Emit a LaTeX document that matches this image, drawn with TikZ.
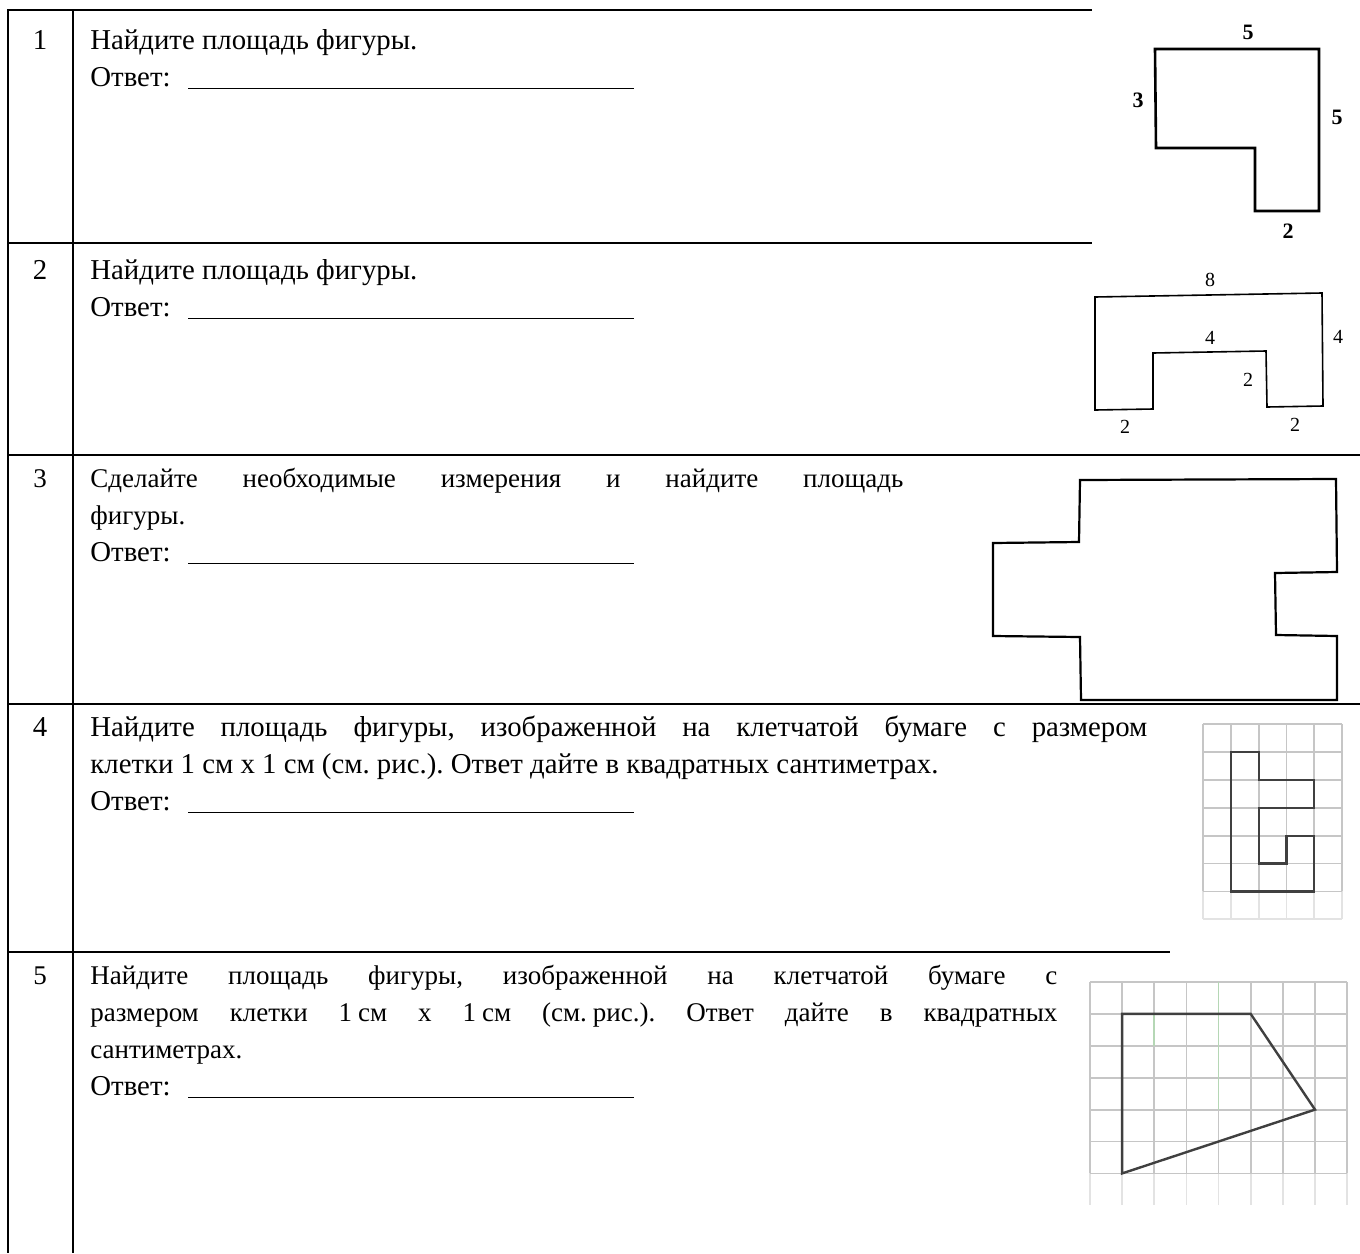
\documentclass[tikz,border=0pt]{standalone}
\usepackage{fontspec}
\setmainfont{Liberation Serif}
\usetikzlibrary{positioning}

\newcommand{\smalltxt}{\fontsize{13.5}{18.5}\selectfont}
\newcommand{\bigtxt}{\fontsize{14.4}{18.5}\selectfont}
\newcommand{\answerline}{{\bigtxt\makebox[49pt][l]{Ответ:}\rule[-1.5pt]{223pt}{0.5pt}}}
\newcommand{\tightsp}{\hspace{0.22em}}

\begin{document}
\begin{tikzpicture}[x=0.5pt, y=-0.5pt]
\tikzset{tline/.style={line width=1.1pt}}
\tikzset{task/.style={anchor=base west, inner sep=0pt, align=justify}}
\tikzset{num/.style={anchor=base, inner sep=0pt}}
\tikzset{figbold/.style={line width=1.3pt, line join=miter}}
\tikzset{figthin/.style={line width=0.8pt, line join=miter}}
\tikzset{cell/.style={gray!45, line width=0.9pt}}
\tikzset{faintcell/.style={gray!22, line width=0.9pt}}
\tikzset{lbl/.style={inner sep=0pt, font=\fontsize{11}{13}\selectfont\bfseries}}
\tikzset{lblthin/.style={inner sep=0pt, font=\fontsize{10}{12}\selectfont}}

\useasboundingbox (0,0) rectangle (1360,1253);
\frenchspacing

% table
\draw[tline] (1092,10) -- (8,10) -- (8,1253);
\draw[tline] (73,10) -- (73,1253);
\draw[tline] (8,243) -- (1092,243);
\draw[tline] (8,455) -- (1360,455);
\draw[tline] (8,704) -- (1360,704);
\draw[tline] (8,952) -- (1170,952);

% numbers and tasks
\node[num, font=\bigtxt] (numone) at (40,49) {1};
\node[task, font=\bigtxt, text width=300pt] (taskone) at (90,49) {Найдите площадь фигуры.\\\answerline};
\node[num, font=\bigtxt] (numtwo) at (40,279) {2};
\node[task, font=\bigtxt, text width=300pt] (tasktwo) at (90,279) {Найдите площадь фигуры.\\\answerline};
\node[num, font=\smalltxt] (numthree) at (40,487) {3};
\node[task, font=\smalltxt, text width=406.5pt] (taskthree) at (90,487) {Сделайте необходимые измерения и найдите площадь\linebreak фигуры.\\\answerline};
\node[num, font=\bigtxt] (numfour) at (40,736) {4};
\node[task, font=\bigtxt, text width=528.5pt] (taskfour) at (90,736) {Найдите площадь фигуры, изображенной на клетчатой бумаге с размером\linebreak клетки 1 см х 1 см (см. рис.). Ответ дайте в квадратных сантиметрах.\\\answerline};
\node[num, font=\smalltxt] (numfive) at (40,984) {5};
\node[task, font=\smalltxt, text width=483.5pt] (taskfive) at (90,984) {Найдите площадь фигуры, изображенной на клетчатой бумаге с\linebreak размером клетки 1\tightsp см х 1\tightsp см (см.\tightsp рис.). Ответ дайте в квадратных\linebreak сантиметрах.\\\answerline};

% figure 1
\draw[figbold] (1155,49) -- (1319,49) -- (1319,211) -- (1255,211) -- (1255,148) -- (1156,148) -- cycle;
\node[lbl] (topfive) at (1248,32) {5};
\node[lbl] (leftthree) at (1138,100) {3};
\node[lbl] (rightfive) at (1337,117) {5};
\node[lbl] (bottomtwo) at (1288,231) {2};

% figure 2
\draw[figthin] (1095,297) -- (1322,293) -- (1323,406) -- (1267,407) -- (1266,351) -- (1153,353) -- (1153,409) -- (1095,410) -- cycle;
\node[lblthin] (topeight) at (1210,280) {8};
\node[lblthin] (rightfour) at (1338,337) {4};
\node[lblthin] (midfour) at (1210,338) {4};
\node[lblthin] (innertwo) at (1248,380) {2};
\node[lblthin] (lefttwo) at (1125,427) {2};
\node[lblthin] (righttwo) at (1295,425) {2};

% figure 3
\draw[figbold, line width=1.1pt] (1080,480) -- (1336,479) -- (1337,572) -- (1275,573) -- (1276,635) -- (1337,636) -- (1337,700) -- (1081,700) -- (1080,637) -- (993,636) -- (993,543) -- (1079,542) -- cycle;

% figure 4, squared paper
\begin{scope}[shift={(1203,724)}, x=13.9pt, y=-13.95pt]
\foreach \i in {0,...,5} {
  \draw[cell] (\i,0) -- (\i,6);
  \draw[faintcell] (\i,6) -- (\i,7);
}
\foreach \j in {0,...,6} \draw[cell] (0,\j) -- (5,\j);
\draw[faintcell] (0,7) -- (5,7);
\draw[figbold, line width=1.1pt, black!75] (1,1) -- (2,1) -- (2,2) -- (4,2) -- (4,3) -- (2,3) -- (2,5) -- (3,5) -- (3,4) -- (4,4) -- (4,6) -- (1,6) -- cycle;
\end{scope}

% figure 5, squared paper
\begin{scope}[shift={(1090,982)}, x=16.07pt, y=-15.95pt]
\foreach \i in {0,...,8} {
  \draw[cell] (\i,0) -- (\i,6);
  \draw[faintcell] (\i,6) -- (\i,7);
}
\foreach \j in {0,...,6} \draw[cell] (0,\j) -- (8,\j);
\draw[cell, green!30!gray!45] (4,0) -- (4,4);
\draw[cell, green!30!gray!45] (2,1) -- (2,2);
\draw[figbold, line width=1.2pt, black!75] (1,1) -- (5,1) -- (7,4) -- (1,6) -- cycle;
\end{scope}
\end{tikzpicture}
\end{document}
